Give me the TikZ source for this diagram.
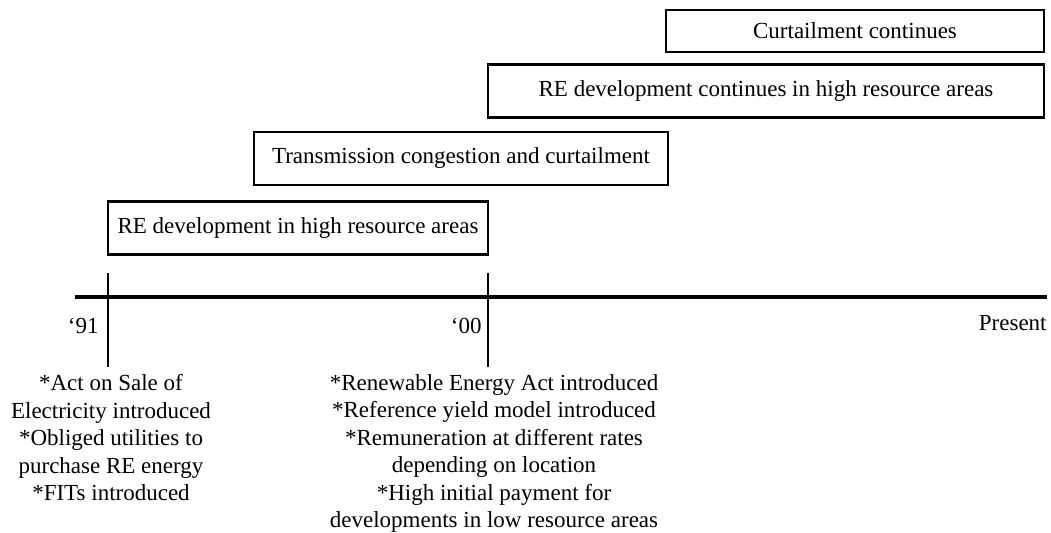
\documentclass[tikz,border=0pt]{standalone}
\usepackage{fontspec}
\setmainfont{Liberation Serif}
\usetikzlibrary{positioning}

\begin{document}
\begin{tikzpicture}[x=0.5pt, y=-0.5pt,
    phase/.style={draw, line width=1.3pt, inner sep=0pt, minimum height=26.5pt, align=center,
                  font=\fontsize{11.5}{13.75}\selectfont},
    yearlabel/.style={inner sep=0pt, font=\fontsize{11.5}{13.75}\selectfont},
    notes/.style={inner sep=0pt, anchor=north, align=center, font=\fontsize{11.5}{13.75}\selectfont},
    tick/.style={line width=0.65pt}
]
\useasboundingbox (0,0) rectangle (1051,533);

% phases above the time line
\node[phase, minimum width=190pt] (devhigh) at (298,228) {RE development in high resource areas};
\node[phase, minimum width=207pt] (congest) at (461,158.5) {Transmission congestion and curtailment};
\node[phase, minimum width=278pt] (devcont) at (766,91) {RE development continues in high resource areas};
\node[phase, minimum width=189pt, minimum height=21pt] (curtail) at (855,31) {Curtailment continues};

% time line
\coordinate (start) at (75,297);
\coordinate (stop) at (1047,297);
\draw[line width=1.6pt] (start) -- (stop);

\coordinate (t91) at (108,273);
\coordinate (b91) at (108,367);
\coordinate (t00) at (488,273);
\coordinate (b00) at (488,367);
\draw[tick] (t91) -- (b91);
\draw[tick] (t00) -- (b00);

\node[yearlabel, anchor=east] (y91) at (99,326) {‘91};
\node[yearlabel, anchor=east] (y00) at (482,326) {‘00};
\node[yearlabel, anchor=east] (present) at (1047,323) {Present};

% what happened at each date
\node[notes] (note91) at (111,374) {*Act on Sale of\\Electricity introduced\\*Obliged utilities to\\purchase RE energy\\*FITs introduced};
\node[notes] (note00) at (494,374) {*Renewable Energy Act introduced\\*Reference yield model introduced\\*Remuneration at different rates\\depending on location\\*High initial payment for\\developments in low resource areas};
\end{tikzpicture}
\end{document}
